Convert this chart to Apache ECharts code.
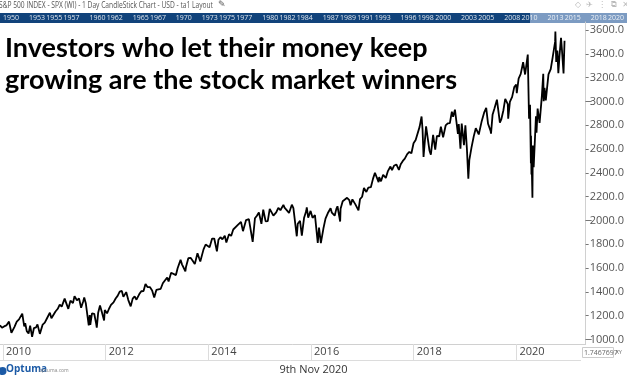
<!DOCTYPE html>
<html>
<head>
<meta charset="utf-8">
<script src="https://cdn.jsdelivr.net/npm/echarts@6/dist/echarts.min.js"></script>
<style>
  html, body { margin: 0; padding: 0; background: #fff; }
  #chart { width: 627px; height: 376px; }
</style>
</head>
<body>
<div id="chart"></div>
<script>
// S&P 500 levels (dates, index values)
const dates = [
  '2009-11-16','2009-11-30','2009-12-15','2009-12-31',
  '2010-01-19','2010-02-05','2010-02-26','2010-03-15','2010-03-31','2010-04-23','2010-05-07','2010-05-14','2010-05-25','2010-06-07','2010-06-18','2010-07-02','2010-07-15','2010-07-30','2010-08-09','2010-08-26','2010-09-15','2010-09-30','2010-10-15','2010-10-29','2010-11-05','2010-11-16','2010-11-30','2010-12-15','2010-12-31',
  '2011-01-14','2011-01-28','2011-02-18','2011-02-28','2011-03-16','2011-03-31','2011-04-18','2011-04-29','2011-05-16','2011-05-31','2011-06-15','2011-06-30','2011-07-07','2011-07-18','2011-07-29','2011-08-08','2011-08-15','2011-08-19','2011-08-31','2011-09-16','2011-09-30','2011-10-04','2011-10-14','2011-10-27','2011-11-09','2011-11-25','2011-11-30','2011-12-16','2011-12-30',
  '2012-01-13','2012-01-31','2012-02-15','2012-02-29','2012-03-15','2012-03-30','2012-04-10','2012-04-30','2012-05-15','2012-06-01','2012-06-15','2012-06-29','2012-07-12','2012-07-31','2012-08-15','2012-08-31','2012-09-14','2012-09-28','2012-10-15','2012-10-31','2012-11-15','2012-11-30','2012-12-14','2012-12-31',
  '2013-01-15','2013-01-31','2013-02-15','2013-02-25','2013-03-15','2013-03-28','2013-04-18','2013-04-30','2013-05-21','2013-05-31','2013-06-24','2013-06-28','2013-07-15','2013-07-31','2013-08-15','2013-08-30','2013-09-18','2013-09-30','2013-10-08','2013-10-31','2013-11-15','2013-11-29','2013-12-13','2013-12-31',
  '2014-01-15','2014-02-03','2014-02-14','2014-02-28','2014-03-14','2014-03-31','2014-04-11','2014-04-30','2014-05-15','2014-05-30','2014-06-13','2014-06-30','2014-07-24','2014-08-07','2014-08-29','2014-09-18','2014-10-15','2014-10-31','2014-11-14','2014-11-28','2014-12-16','2014-12-29',
  '2015-01-15','2015-01-30','2015-02-13','2015-02-27','2015-03-11','2015-03-31','2015-04-15','2015-04-30','2015-05-21','2015-05-29','2015-06-15','2015-06-30','2015-07-20','2015-07-31','2015-08-14','2015-08-24','2015-08-31','2015-09-16','2015-09-29','2015-10-15','2015-10-30','2015-11-03','2015-11-13','2015-11-30','2015-12-14','2015-12-31',
  '2016-01-20','2016-01-29','2016-02-11','2016-02-29','2016-03-15','2016-03-31','2016-04-20','2016-04-29','2016-05-19','2016-05-31','2016-06-08','2016-06-27','2016-06-30','2016-07-15','2016-07-29','2016-08-15','2016-08-31','2016-09-09','2016-09-22','2016-10-14','2016-11-04','2016-11-15','2016-11-30','2016-12-13','2016-12-30',
  '2017-01-13','2017-01-31','2017-02-15','2017-02-28','2017-03-01','2017-03-27','2017-03-31','2017-04-13','2017-04-28','2017-05-17','2017-05-31','2017-06-19','2017-06-30','2017-07-14','2017-07-31','2017-08-18','2017-08-31','2017-09-15','2017-09-29','2017-10-16','2017-10-31','2017-11-15','2017-11-30','2017-12-15','2017-12-29',
  '2018-01-12','2018-01-26','2018-02-02','2018-02-09','2018-02-27','2018-03-09','2018-03-13','2018-03-23','2018-04-02','2018-04-18','2018-05-03','2018-05-15','2018-05-31','2018-06-12','2018-06-28','2018-07-16','2018-07-31','2018-08-15','2018-08-29','2018-09-07','2018-09-20','2018-10-03','2018-10-11','2018-10-17','2018-10-29','2018-11-07','2018-11-23','2018-12-03','2018-12-14','2018-12-24','2018-12-31',
  '2019-01-15','2019-01-31','2019-02-15','2019-02-28','2019-03-08','2019-03-29','2019-04-15','2019-04-30','2019-05-13','2019-05-31','2019-06-03','2019-06-14','2019-06-28','2019-07-15','2019-07-26','2019-08-05','2019-08-15','2019-08-23','2019-08-30','2019-09-12','2019-09-30','2019-10-03','2019-10-15','2019-10-31','2019-11-15','2019-11-29','2019-12-03','2019-12-16','2019-12-31',
  '2020-01-17','2020-01-31','2020-02-19','2020-02-28','2020-03-06','2020-03-12','2020-03-13','2020-03-16','2020-03-17','2020-03-23','2020-03-26','2020-04-01','2020-04-17','2020-04-21','2020-04-29','2020-05-13','2020-05-29','2020-06-08','2020-06-11','2020-06-17','2020-06-26','2020-07-15','2020-07-31','2020-08-14','2020-08-31','2020-09-02','2020-09-08','2020-09-16','2020-09-23','2020-10-01','2020-10-12','2020-10-19','2020-10-30','2020-11-06'
];
const closes = [
  1120,1098,1110,1118,
  1150,1056,1104,1150,1169,1217,1110,1136,1070,1050,1117,1022,1096,1102,1127,1047,1125,1141,1176,1183,1225,1178,1180,1235,1258,
  1293,1276,1343,1327,1257,1326,1305,1364,1329,1345,1266,1321,1353,1305,1292,1119,1205,1123,1219,1216,1131,1099,1225,1285,1230,1159,1247,1220,1258,
  1290,1312,1344,1366,1402,1408,1358,1398,1331,1278,1343,1362,1334,1379,1405,1407,1466,1441,1440,1412,1353,1416,1413,1426,
  1472,1498,1520,1488,1561,1569,1541,1598,1669,1631,1573,1606,1683,1686,1661,1633,1725,1682,1655,1757,1798,1806,1775,1848,
  1848,1741,1838,1859,1841,1872,1815,1884,1870,1924,1937,1960,1988,1910,2003,2011,1820,2018,2039,2068,1972,2090,
  1992,1995,2097,2105,2040,2068,2106,2086,2131,2107,2084,2063,2132,2104,2092,1867,1972,1996,1872,2023,2079,2110,2023,2080,2022,2044,
  1812,1940,1810,1932,2015,2060,2102,2065,2040,2097,2119,1991,2099,2161,2174,2190,2171,2128,2177,2133,2084,2180,2199,2272,2239,
  2275,2279,2349,2364,2401,2322,2363,2329,2384,2357,2412,2453,2423,2459,2470,2425,2472,2500,2519,2557,2575,2564,2648,2676,2674,
  2786,2873,2762,2533,2790,2786,2800,2588,2553,2718,2594,2711,2705,2787,2699,2798,2816,2818,2914,2871,2931,2925,2728,2810,2603,2814,2633,2800,2599,2351,2507,
  2610,2704,2775,2784,2722,2834,2905,2946,2812,2752,2729,2887,2942,3014,3025,2822,2848,2834,2926,3021,2977,2855,2996,3038,3120,3141,3070,3192,3231,
  3329,3226,3393,2855,2972,2480,2711,2386,2529,2191,2630,2447,2875,2737,2939,2820,3044,3232,3002,3113,3009,3227,3271,3372,3500,3588,3331,3428,3237,3380,3534,3426,3234,3510
];
const priceTicks = [1000,1200,1400,1600,1800,2000,2200,2400,2600,2800,3000,3200,3400,3600];
const majorTicks = [1000,2000,3000];
const yearLabels = [2010,2012,2014,2016,2018,2020];
const navYears = [1950,1953,1955,1957,1960,1962,1965,1967,1970,1973,1975,1977,1980,1982,1984,1987,1989,1991,1993,1996,1998,2000,2003,2005,2008,2010,2013,2015,2018,2020];

const navCats = [];
for (let y = 1950; y <= 2020; y++) navCats.push(String(y));

const chart = echarts.init(document.getElementById('chart'));
const textFont = 'Open Sans';

chart.setOption({
  animation: false,
  backgroundColor: '#fff',
  title: {
    text: 'Investors who let their money keep\ngrowing are the stock market winners',
    left: 0, top: 27,
    textStyle: {
      fontSize: 27, fontWeight: 'bold', color: '#000', lineHeight: 32,
      fontFamily: 'Lato', textBorderColor: '#fff', textBorderWidth: 2
    }
  },
  grid: [
    { left: 0, right: 35, top: 22, bottom: 32 },
    { left: 0, right: 4, top: 13, height: 10 }
  ],
  xAxis: [
    { type: 'time', gridIndex: 0, min: '2009-11-16', max: '2021-04-05', show: false },
    {
      type: 'value', gridIndex: 0, position: 'bottom', min: 2009.942, max: 2021.349,
      splitLine: { show: false },
      axisLine: { show: true, lineStyle: { color: '#d0d0d0' } },
      axisTick: { show: true, customValues: yearLabels, length: 16, lineStyle: { color: '#dcdcdc' } },
      axisLabel: {
        customValues: yearLabels, align: 'left', margin: 2, padding: [0, 0, 0, 3],
        color: '#444', fontSize: 11, fontFamily: textFont, formatter: v => String(v)
      }
    },
    {
      type: 'category', gridIndex: 1, data: navCats, boundaryGap: false, position: 'top',
      axisLine: { show: false },
      axisTick: {
        show: true, inside: true, length: 10,
        interval: (i, v) => navYears.includes(+v),
        lineStyle: { color: 'rgba(255,255,255,0.35)' }
      },
      axisLabel: {
        inside: true, margin: 1, align: 'left', padding: [0, 0, 0, 1],
        interval: (i, v) => navYears.includes(+v),
        color: 'rgba(255,255,255,0.85)', fontSize: 7, fontFamily: textFont
      }
    }
  ],
  yAxis: [
    {
      type: 'value', gridIndex: 0, position: 'right', min: 962, max: 3667,
      splitLine: { show: false },
      axisLine: { show: true, lineStyle: { color: '#d0d0d0' } },
      axisTick: { show: true, customValues: priceTicks, length: 3, lineStyle: { color: '#777' } },
      axisLabel: {
        customValues: priceTicks, margin: 4, color: '#555', fontSize: 11, fontFamily: textFont,
        formatter: v => v.toFixed(1)
      }
    },
    {
      type: 'value', gridIndex: 0, position: 'right', min: 962, max: 3667,
      splitLine: { show: false }, axisLine: { show: false },
      axisTick: { show: true, customValues: majorTicks, length: 6, lineStyle: { color: '#777' } },
      axisLabel: { show: false }
    },
    { type: 'value', gridIndex: 1, show: false }
  ],
  graphic: [
    { type: 'rect', z: -1, shape: { x: 0, y: 13, width: 627, height: 10 }, style: { fill: '#11437b' } },
    { type: 'rect', z: -1, shape: { x: 530, y: 13, width: 97, height: 10 }, style: { fill: '#7c9bc2' } },
    {
      type: 'text', x: -1, y: 1, scaleX: 0.74,
      style: { text: 'S&P 500 INDEX - SPX (WI) - 1 Day CandleStick Chart - USD - ta1 Layout', fontSize: 9, fill: '#555', fontFamily: textFont }
    },
    { type: 'text', x: 218, y: 0, style: { text: '\u270E', fontSize: 9, fill: '#555', fontFamily: 'DejaVu Sans' } },
    { type: 'text', left: 575, top: 1, style: { text: '\u25C7  \u2708  \u22EE  \u29C9  \u2715', fontSize: 8, fill: '#bbb', fontFamily: 'DejaVu Sans' } },
    { type: 'line', shape: { x1: 0, y1: 360.5, x2: 581, y2: 360.5 }, style: { stroke: '#dcdcdc', lineWidth: 1 } },
    { type: 'rect', shape: { x: 582.5, y: 347.5, width: 31, height: 10 }, style: { fill: '#fff', stroke: '#ccc' } },
    { type: 'text', left: 584, top: 349, style: { text: '1.7467697', fontSize: 7, fill: '#666', fontFamily: textFont } },
    { type: 'text', left: 616, top: 350, style: { text: 'XY', fontSize: 5, fill: '#666', fontFamily: textFont } },
    { type: 'circle', shape: { cx: 2.5, cy: 371, r: 4 }, style: { fill: '#1b5aa6' } },
    { type: 'text', left: 6, top: 364, style: { text: 'Optuma', fontSize: 10, fontWeight: 'bold', fill: '#1b5aa6', fontFamily: textFont } },
    { type: 'text', left: 39, top: 368, style: { text: 'optuma.com', fontSize: 5, fill: '#888', fontFamily: textFont } },
    { type: 'text', left: 'center', top: 364, style: { text: '9th Nov 2020', fontSize: 11, fill: '#333', fontFamily: textFont } }
  ],
  series: [
    {
      type: 'line', xAxisIndex: 0, yAxisIndex: 0, showSymbol: false,
      lineStyle: { color: '#000', width: 1.8 },
      data: dates.map((d, i) => [d, closes[i]])
    }
  ]
});
</script>
</body>
</html>
